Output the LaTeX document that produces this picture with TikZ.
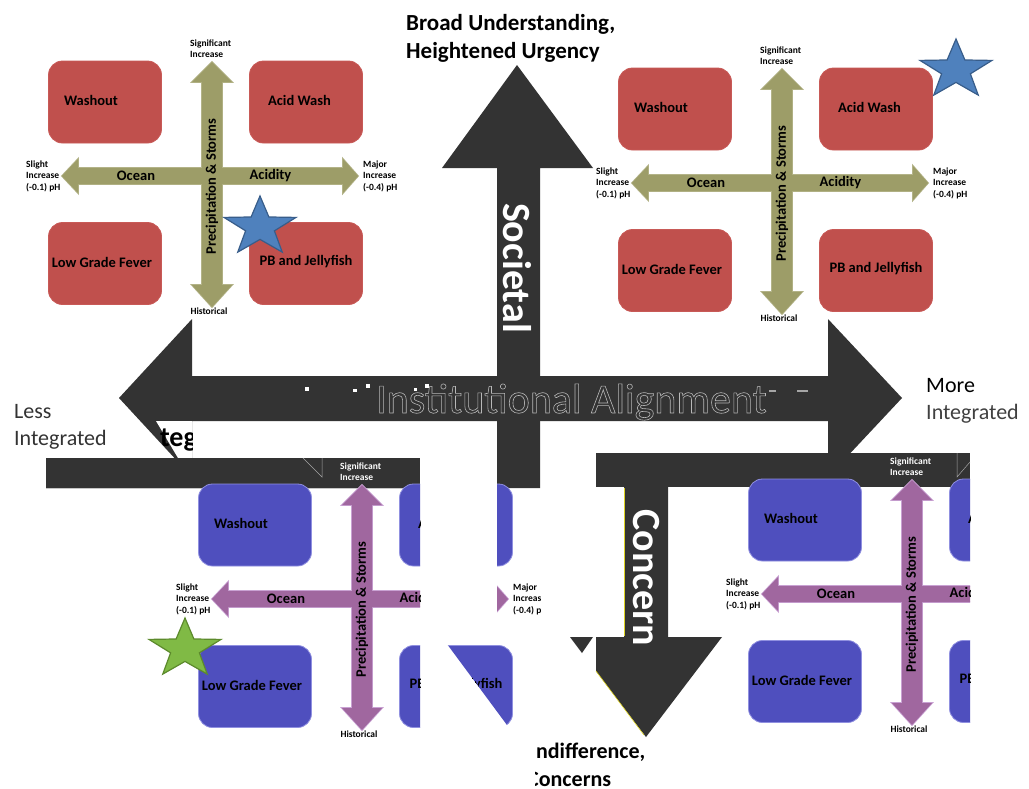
\documentclass[tikz,border=0pt]{standalone}
\usepackage{fontspec}
\setmainfont{Carlito}
\definecolor{qred}{HTML}{C0504D}
\definecolor{qredb}{HTML}{C85A57}
\definecolor{qolive}{HTML}{9D9D68}
\definecolor{qoliveb}{HTML}{B3B388}
\definecolor{qblue}{HTML}{4F4FBE}
\definecolor{qblueb}{HTML}{9090E0}
\definecolor{qpurple}{HTML}{A0679F}
\definecolor{qpurpleb}{HTML}{C9A2D3}
\definecolor{qdark}{HTML}{333333}
\definecolor{sblue}{HTML}{4F81BD}
\definecolor{sblueb}{HTML}{385D8A}
\definecolor{sgreen}{HTML}{80BA45}
\definecolor{sgreenb}{HTML}{5C8A2C}
\newcommand\qstar[4]{%
  \filldraw[fill=#3, draw=#4, line width=1.2pt, line join=miter, shift={(#1,#2)}, xscale=1.22]
    (-90:31) -- (-54:12.4) -- (-18:31) -- (18:12.4) -- (54:31) -- (90:12.4) --
    (126:31) -- (162:12.4) -- (198:31) -- (234:12.4) -- cycle;}
\newcommand\outlinetxt[1]{\special{pdf:literal direct 1 Tr 0.6 w 0.72 0.72 0.72 RG}#1\special{pdf:literal direct 0 Tr}}
\tikzset{
  qbox/.style={rectangle, rounded corners=14pt, minimum width=113pt, minimum height=82pt, inner sep=0pt, line width=0.8pt},
  qtxt/.style={font=\bfseries\fontsize{14.5}{16}\selectfont, text=black, inner sep=0pt},
  qsmall/.style={font=\bfseries\fontsize{9.5}{11.5}\selectfont, align=left, inner sep=0pt},
  bigtxt/.style={font=\bfseries\fontsize{40}{44}\selectfont, text=white, inner sep=0pt},
  headtxt/.style={font=\bfseries\fontsize{23}{28}\selectfont, inner sep=0pt, anchor=base west},
  sidetxt/.style={font=\fontsize{22}{26}\selectfont, inner sep=0pt, anchor=base west},
  pics/quad/.style n args={5}{code={
    \node[qbox, fill=#1, draw=#2] (-wbox) at (105,102) {};
    \node[qbox, fill=#1, draw=#2] (-abox) at (306,102) {};
    \node[qbox, fill=#1, draw=#2] (-lbox) at (105,263.5) {};
    \node[qbox, fill=#1, draw=#2] (-pbox) at (306,263.5) {};
    \path[draw=#4, line width=1.6pt, line join=miter]
      (62,176) -- (78,159) -- (78,168) -- (343,168) -- (343,159) -- (358,176) -- (343,193) -- (343,184) -- (78,184) -- (78,193) -- cycle
      (212,62) -- (232,82) -- (222,82) -- (222,285) -- (232,285) -- (212,307) -- (192,285) -- (202,285) -- (202,82) -- (192,82) -- cycle;
    \fill[#3]
      (62,176) -- (78,159) -- (78,168) -- (343,168) -- (343,159) -- (358,176) -- (343,193) -- (343,184) -- (78,184) -- (78,193) -- cycle;
    \fill[#3]
      (212,62) -- (232,82) -- (222,82) -- (222,285) -- (232,285) -- (212,307) -- (192,285) -- (202,285) -- (202,82) -- (192,82) -- cycle;
    \node[qtxt] (-wash) at (91,100) {Washout};
    \node[qtxt] (-acid) at (299.5,100) {Acid Wash};
    \node[qtxt] (-low) at (102,262) {Low Grade Fever};
    \node[qtxt] (-pb) at (306,262) {PB and Jellyfish};
    \node[qtxt] (-ocean) at (136,176) {Ocean};
    \node[qtxt] (-acidity) at (270.5,176) {Acidity};
    \node[qtxt, rotate=90] (-precip) at (212,186.5) {Precipitation \& Storms};
    \node[qsmall, text=black] (-hist) at (209,311) {Historical};
    \node[qsmall, text=black, anchor=west] (-slight) at (26,176) {Slight\\Increase\\(-0.1) pH};
    \node[qsmall, text=black, anchor=west] (-major) at (363,176) {#5};
  }}
}
\begin{document}
\begin{tikzpicture}[x=1pt, y=-1pt]
\useasboundingbox[fill=white] (0,0) rectangle (1029,788);

% top quadrants
\pic (tl) at (0,0) {quad={qred}{qredb}{qolive}{qoliveb}{Major\\Increase\\(-0.4) pH}};
\node[qsmall, anchor=west, text=black] (tlsig) at (190,48.5) {Significant\\Increase};
\qstar{260}{227}{sblue}{sblueb}
\pic (tr) at (570,7) {quad={qred}{qredb}{qolive}{qoliveb}{Major\\Increase\\(-0.4) pH}};
\node[qsmall, anchor=west, text=black] (trsig) at (760,55.5) {Significant\\Increase};
\qstar{956}{70}{sblue}{sblueb}

% Societal arrow (up)
\fill[qdark] (517,65) -- (593,168) -- (540,168) -- (540,488) -- (497,488) -- (497,168) -- (442,168) -- cycle;
\node[bigtxt, rotate=-90] (societal) at (517,268) {Societal};

% Institutional alignment double arrow
\fill[qdark] (119,398) -- (192,319) -- (192,376) -- (828,376) -- (828,319) -- (902,398) -- (828,477) -- (828,421) -- (192,421) -- (192,477) -- cycle;
\fill[white] (156,421) -- (192,421) -- (192,458) -- (178,458) -- cycle;
\node[font=\fontsize{42}{46}\selectfont, inner sep=0pt, anchor=base] (inst) at (571.5,413) {\outlinetxt{Institutional Alignment}};
\fill[white] (305,387) rectangle (309,391);
\fill[white] (353,389) rectangle (357,392);
\fill[white] (366,384) rectangle (370,388);
\fill[white] (414,388) rectangle (417,391);
\fill[white] (425,384) rectangle (429,388);
\fill[gray!70] (769,390) rectangle (776,392);
\fill[gray!70] (797,390) rectangle (808,392);

% bars under the arrow
\fill[qdark] (46,458) rectangle (420,488);
\draw[gray!45, line width=1pt] (46,488) -- (420,488);
\draw[gray!70, line width=0.5pt] (303,458) -- (322,477) -- (322,458);
\fill[qdark] (596,453) rectangle (970,487);
\draw[gray!70, line width=0.5pt] (957,453) -- (957,477) -- (970,462);

% Concern arrow (down)
\begin{scope}
  \clip (596,440) rectangle (760,760);
  \fill[qdark] (624,453) -- (668,453) -- (668,637) -- (722,637) -- (646,737) -- (570,637) -- (624,637) -- cycle;
\end{scope}
\draw[yellow!85!black, line width=0.6pt] (624,488) -- (624,636);
\draw[yellow!85!black, line width=0.6pt] (596,671) -- (644,735);
\fill[qdark] (570,637) -- (593,637) -- (582,653) -- cycle;
\node[bigtxt, rotate=-90] (concern) at (646,578) {Concern};

% bottom quadrants (partly missing)
\begin{scope}
  \clip (0,482) rectangle (420,788)
        (497,482) -- (540,482) -- (540,769.6) -- (447,644) -- (497,644) -- cycle;
  \pic (bl) at (150,423) {quad={qblue}{qblueb}{qpurple}{qpurpleb}{Major\\Increase\\(-0.4) pH}};
\end{scope}
\node[qsmall, anchor=west, text=white] (blsig) at (340,471.5) {Significant\\Increase};
\qstar{185}{649}{sgreen}{sgreenb}

\begin{scope}
  \clip (596,477) rectangle (970,788);
  \pic (br) at (700,418) {quad={qblue}{qblueb}{qpurple}{qpurpleb}{}};
\end{scope}
\node[qsmall, anchor=west, text=white] (brsig) at (890,466.5) {Significant\\Increase};

% texts
\node[headtxt] (broad1) at (406,30.5) {Broad Understanding,};
\node[headtxt] (broad2) at (406,58) {Heightened Urgency};
\node[sidetxt, text=black!80] (less1) at (14,418) {Less};
\node[sidetxt, text=black!80] (less2) at (14,445) {Integrated};
\node[sidetxt, text=black] (more1) at (926,392) {More};
\node[sidetxt, text=black!75] (more2) at (926,419) {Integrated};
\begin{scope}
  \clip (140,421) rectangle (192,458);
  \node[font=\bfseries\fontsize{28}{30}\selectfont, inner sep=0pt, anchor=base east] (teg) at (197,446) {teg};
\end{scope}
\begin{scope}
  \clip (535,735) rectangle (700,788);
  \node[headtxt, font=\bfseries\fontsize{22}{26}\selectfont] (indiff1) at (530,758) {Indifference,};
  \node[headtxt, font=\bfseries\fontsize{22}{26}\selectfont] (indiff2) at (527,786) {Concerns};
\end{scope}
\end{tikzpicture}
\end{document}
